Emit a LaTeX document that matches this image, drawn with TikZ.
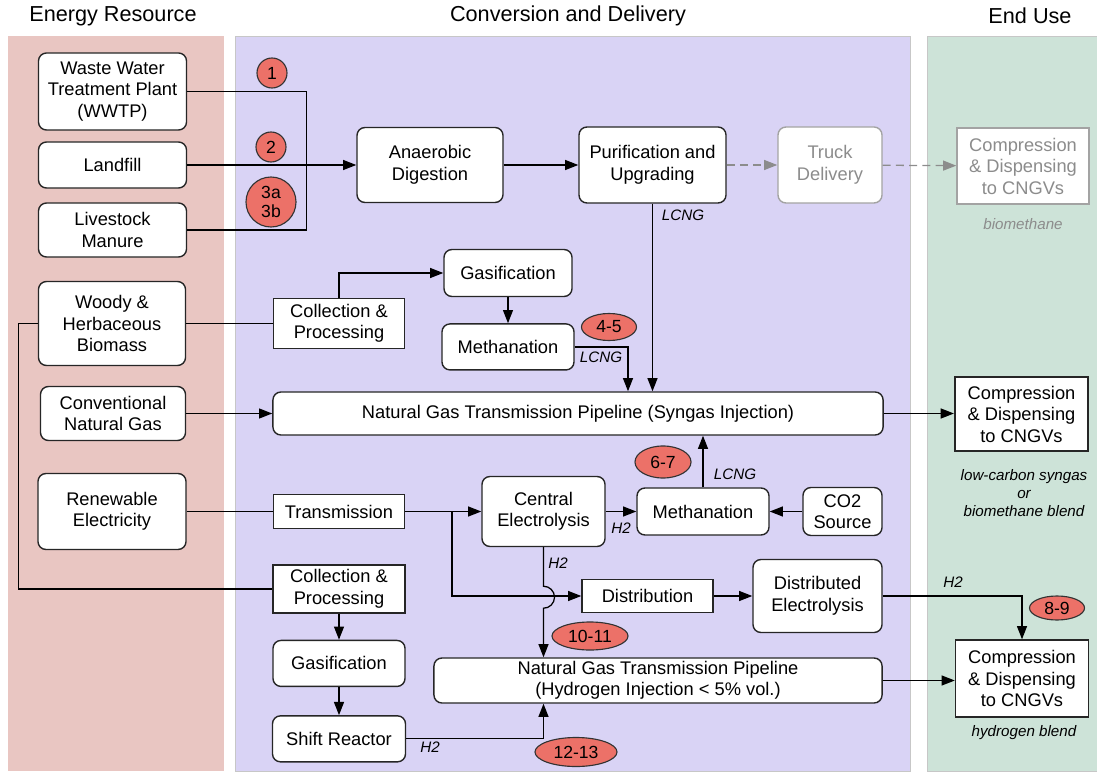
\documentclass[tikz,border=0pt]{standalone}
\usepackage{fontspec}
\setmainfont{Liberation Sans}
\usetikzlibrary{arrows.meta,positioning,shapes.geometric,calc}
\definecolor{resbg}{RGB}{233,198,194}
\definecolor{convbg}{RGB}{217,211,245}
\definecolor{usebg}{RGB}{205,227,216}
\definecolor{badgered}{RGB}{236,113,104}
\definecolor{fade}{RGB}{140,140,140}
\tikzset{
  box/.style   = {draw=black!85, line width=1pt, rounded corners=2mm, fill=white,
                  align=center, inner sep=1pt, font=\fontsize{13}{15.3}\selectfont},
  sqr/.style   = {box, sharp corners},
  badge/.style = {draw=black!80, line width=0.8pt, fill=badgered, ellipse, inner sep=0pt,
                  align=center, font=\fontsize{12.5}{14.5}\selectfont},
  ar/.style    = {-{Triangle[length=3.3mm,width=2.5mm]}, line width=0.9pt},
  ln/.style    = {line width=0.9pt},
  lbl/.style   = {font=\fontsize{10.8}{13}\selectfont\itshape, align=center},
  hdr/.style   = {font=\fontsize{15.4}{18}\selectfont},
  panel/.style = {draw=black!22, line width=0.6pt}
}

\begin{document}
\begin{tikzpicture}[x=0.025cm, y=0.025cm]
  \useasboundingbox (0,0) rectangle (1097,-773);
  % columns
  \fill[resbg] (8,-36) rectangle (224,-771);
  \draw[panel, fill=convbg] (235,-36) rectangle (910,-771);
  \draw[panel, fill=usebg] (927,-36) rectangle (1097,-771);
  \node[hdr] at (113,-16) {Energy Resource};
  \node[hdr] at (568,-16) {Conversion and Delivery};
  \node[hdr] at (1030,-16) {End Use};

  % energy resources
  \node[box, minimum width=3.7cm, minimum height=1.925cm] (wwtp) at (112.5,-91.5) {Waste Water\\Treatment Plant\\(WWTP)};
  \node[box, minimum width=3.7cm, minimum height=1.15cm] (landfill) at (112.5,-165) {Landfill};
  \node[box, minimum width=3.7cm, minimum height=1.35cm] (manure) at (112.5,-230) {Livestock\\Manure};
  \node[box, minimum width=3.675cm, minimum height=2.1cm] (woody) at (112,-323.5) {Woody \&\\Herbaceous\\Biomass};
  \node[box, minimum width=3.625cm, minimum height=1.35cm] (convng) at (113,-413.5) {Conventional\\Natural Gas};
  \node[box, minimum width=3.7cm, minimum height=1.9cm] (renew) at (112,-511.5) {Renewable\\Electricity};

  % biogas route
  \node[box, minimum width=3.65cm, minimum height=1.875cm] (digest) at (430,-165) {Anaerobic\\Digestion};
  \node[box, minimum width=3.675cm, minimum height=1.9cm] (purif) at (652.5,-165) {Purification and\\Upgrading};
  \node[box, draw=fade!80, text=fade, minimum width=2.6cm, minimum height=1.9cm] (truck) at (830,-165) {Truck\\Delivery};
  \node[sqr, draw=fade!80, text=fade, minimum width=3.3cm, minimum height=1.9cm] (comptop) at (1023,-166) {Compression\\\& Dispensing\\to CNGVs};
  \node[lbl, text=fade] at (1023,-224) {biomethane};

  % syngas route
  \node[sqr, minimum width=3.275cm, minimum height=1.25cm] (collup) at (339,-323.5) {Collection \&\\Processing};
  \node[box, minimum width=3.2cm, minimum height=1.175cm] (gasup) at (508,-273) {Gasification};
  \node[box, minimum width=3.3cm, minimum height=1.15cm, below=0.65cm of gasup] (methup) {Methanation};
  \node[box, minimum width=15.25cm, minimum height=1.075cm] (pipesyn) at (578,-413.5) {Natural Gas Transmission Pipeline (Syngas Injection)};
  \node[sqr, line width=1.5pt, minimum width=3.325cm, minimum height=1.85cm] (compmid) at (1021.5,-414) {Compression\\\& Dispensing\\to CNGVs};
  \node[lbl] at (1024,-493) {low-carbon syngas\\or\\biomethane blend};

  % electrolysis route
  \node[sqr, minimum width=3.275cm, minimum height=0.85cm] (trans) at (339,-511.5) {Transmission};
  \node[box, minimum width=3.075cm, minimum height=1.75cm] (central) at (543.5,-511.5) {Central\\Electrolysis};
  \node[box, minimum width=3.3cm, minimum height=1.175cm] (methmid) at (703,-511.5) {Methanation};
  \node[box, minimum width=1.975cm, minimum height=1.2cm] (co2) at (842.5,-511.5) {CO2\\Source};
  \node[sqr, minimum width=3.275cm, minimum height=0.825cm] (distrib) at (647.5,-596) {Distribution};
  \node[box, minimum width=3.225cm, minimum height=1.825cm] (distelec) at (817.5,-596) {Distributed\\Electrolysis};

  % hydrogen route
  \node[sqr, minimum width=3.3cm, minimum height=1.2cm] (colllow) at (339,-589) {Collection \&\\Processing};
  \node[box, minimum width=3.3cm, minimum height=1.15cm, below=0.65cm of colllow] (gaslow) {Gasification};
  \node[box, minimum width=3.325cm, minimum height=1.15cm, below=0.7cm of gaslow] (shift) {Shift Reactor};
  \node[box, minimum width=11.2cm, minimum height=1.125cm] (pipeh2) at (658,-680.5) {Natural Gas Transmission Pipeline\\(Hydrogen Injection < 5\% vol.)};
  \node[sqr, minimum width=3.325cm, minimum height=1.925cm] (compbot) at (1022,-678.5) {Compression\\\& Dispensing\\to CNGVs};
  \node[lbl] at (1024,-733) {hydrogen blend};

  % connectors
  \draw[ln] (wwtp.east) -- ++(119,0) |- (manure.east);
  \draw[ar] (landfill) -- (digest);
  \draw[ar] (digest) -- (purif);
  \draw[ar, draw=fade, dash pattern=on 2mm off 1.3mm] (purif) -- (truck);
  \draw[ar, draw=fade, dash pattern=on 2mm off 1.3mm] (truck) -- (comptop);
  \draw[ar] (purif.south) -- (purif.south |- pipesyn.north);
  \draw[ln] (woody) -- (collup);
  \draw[ar] (collup.north) |- (gasup.west);
  \draw[ar] (gasup.south) -- (gasup.south |- methup.north);
  \draw[ar] (methup.east) -| ($(pipesyn.north)+(50,0)$);
  \draw[ar] (convng) -- (pipesyn);
  \draw[ar] (pipesyn.east) -- (pipesyn.east -| compmid.west);
  \draw[ln] (woody.west) -- ++(-19,0) |- (colllow.west);
  \draw[ln] (renew) -- (trans);
  \draw[ar] (trans) -- (central);
  \coordinate (split) at (452,-511.5);
  \draw[ar] (split) |- (distrib.west);
  \draw[ar] (distrib) -- (distelec);
  \draw[ar] (distelec.east) -| (compbot.north);
  \draw[ar] (central) -- (methmid);
  \draw[ar] (co2) -- (methmid);
  \draw[ar] (methmid.north) -- (methmid.north |- pipesyn.south);
  \draw[ar] (central.south) -- ++(0,-39) arc[start angle=90, end angle=-90, radius=0.275cm]
    -- (central.south |- pipeh2.north);
  \draw[ar] (colllow) -- (gaslow);
  \draw[ar] (gaslow) -- (shift);
  \draw[ar] (shift.east) -| (central.south |- pipeh2.south);
  \draw[ar] (pipeh2.east) -- (pipeh2.east -| compbot.west);

  % flow labels
  \node[lbl] at (683,-215) {LCNG};
  \node[lbl] at (601,-357) {LCNG};
  \node[lbl] at (735,-474) {LCNG};
  \node[lbl] at (621,-528) {H2};
  \node[lbl] at (558,-563) {H2};
  \node[lbl] at (953,-582) {H2};
  \node[lbl] at (430,-747) {H2};

  % pathway numbers
  \node[badge, circle, minimum size=0.75cm] (p1) at (272,-73) {1};
  \node[badge, circle, minimum size=0.75cm] (p2) at (271,-147) {2};
  \node[badge, circle, minimum size=1.25cm, font=\fontsize{12.5}{13.5}\selectfont] (p3) at (271,-202) {3a\\3b};
  \node[badge, minimum width=1.375cm, minimum height=0.675cm] (p45) at (609,-327) {4-5};
  \node[badge, minimum width=1.4cm, minimum height=0.8cm] (p67) at (663,-462) {6-7};
  \node[badge, minimum width=1.375cm, minimum height=0.6cm] (p89) at (1057,-608) {8-9};
  \node[badge, minimum width=1.9cm, minimum height=0.7cm] (p1011) at (590,-636) {10-11};
  \node[badge, minimum width=2.05cm, minimum height=0.725cm] (p1213) at (576,-752) {12-13};
\end{tikzpicture}
\end{document}
